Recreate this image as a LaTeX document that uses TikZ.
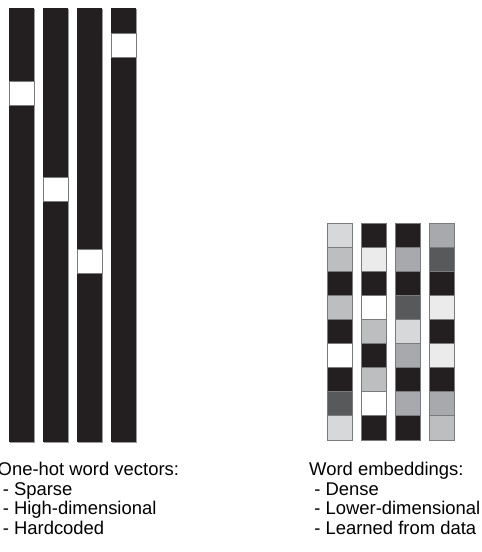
\documentclass[tikz,border=0pt]{standalone}
\usepackage{fontspec}
\setmainfont{Liberation Sans}
\definecolor{ink}{HTML}{231F20}
\definecolor{cV}{HTML}{EBEBEC}
\definecolor{cL}{HTML}{D7D8D9}
\definecolor{cM}{HTML}{BCBEC0}
\definecolor{cG}{HTML}{A7A9AC}
\definecolor{cD}{HTML}{58595B}
\definecolor{cK}{HTML}{231F20}
\definecolor{cW}{HTML}{FFFFFF}
\definecolor{edge}{HTML}{9A9B9D}
\definecolor{cellline}{HTML}{7A7B7E}
\begin{document}
\begin{tikzpicture}[x=1bp,y=-1bp,
  txt/.style={anchor=base west,inner sep=0pt,font=\fontsize{18.5}{19}\selectfont},
  bar/.style={fill=ink},
  barshadow/.style={fill=edge},
  hot/.style={fill=white,draw=cellline,line width=0.9bp},
  cell/.style={draw=cellline,line width=0.7bp}]
\useasboundingbox (0,0) rectangle (482,552);
% one-hot bars
\foreach \i/\h in {0/81,1/177,2/249,3/33}{
  \fill[barshadow] (9+34*\i+1,9) rectangle ++(25,434);
  \fill[bar] (9+34*\i,8) rectangle ++(25,434);
  \filldraw[hot] (9+34*\i+0.5,\h) rectangle ++(24.5,24);
}
% embeddings
\foreach \c [count=\j from 0] in {cL,cM,cK,cM,cK,cW,cK,cD,cL}
  \filldraw[cell,fill=\c] (327,223+24.1*\j) rectangle ++(25,24.1);
\foreach \c [count=\j from 0] in {cK,cV,cK,cW,cM,cK,cM,cW,cK}
  \filldraw[cell,fill=\c] (361,223+24.1*\j) rectangle ++(25,24.1);
\foreach \c [count=\j from 0] in {cK,cG,cK,cD,cL,cG,cK,cG,cK}
  \filldraw[cell,fill=\c] (395,223+24.1*\j) rectangle ++(25,24.1);
\foreach \c [count=\j from 0] in {cG,cD,cK,cV,cK,cV,cK,cG,cM}
  \filldraw[cell,fill=\c] (429,223+24.1*\j) rectangle ++(25,24.1);
% texts
\node[txt] (l1) at (-2.5,475.5) {One-hot word vectors:};
\node[txt] (l2) at (-2.5,495) {\ - Sparse};
\node[txt] (l3) at (-2.5,514.5) {\ - High-dimensional};
\node[txt] (l4) at (-2.5,534) {\ - Hardcoded};
\node[txt] (r1) at (309,475.5) {Word embeddings:};
\node[txt] (r2) at (309,495) {\ - Dense};
\node[txt] (r3) at (309,514.5) {\ - Lower-dimensional};
\node[txt] (r4) at (309,534) {\ - Learned from data};
\end{tikzpicture}
\end{document}
